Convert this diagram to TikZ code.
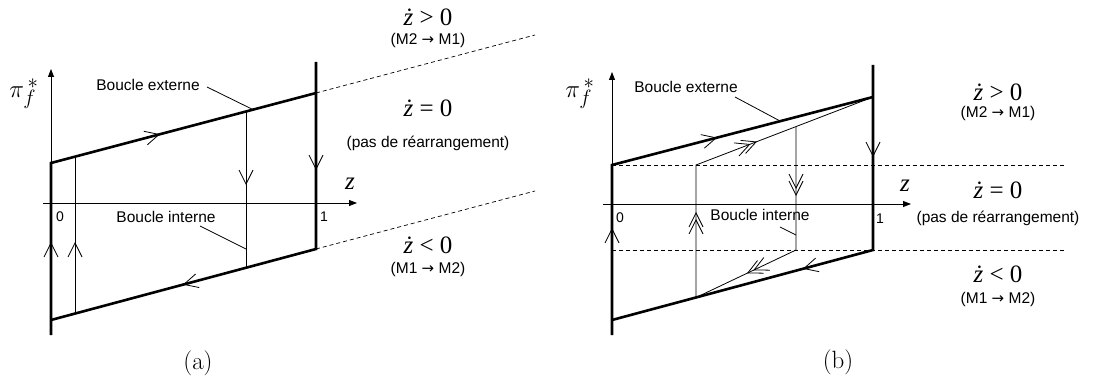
\documentclass[tikz,border=0pt]{standalone}
\usepackage{fontspec}
\newfontfamily\arial{Liberation Sans}
\newfontfamily\tms{Liberation Serif}
\newfontfamily\djv{DejaVu Sans}
\newcommand\rarr{{\djv\fontsize{15}{15}\selectfont →}}
\usetikzlibrary{arrows.meta,decorations.markings}
\tikzset{
  Vb/.tip={Straight Barb[length=14pt,width=14pt,line width=0.8pt]},
  outer/.style={line width=2.6pt},
  innerl/.style={line width=0.8pt},
  axis/.style={line width=0.8pt,-{Triangle[length=8pt,width=6pt]}},
  dash line/.style={line width=0.7pt,dash pattern=on 4pt off 3pt},
  mk/.style={postaction={decorate,decoration={markings,mark=at position #1 with {\arrow{Vb}}}}},
  mkk/.style={postaction={decorate,decoration={markings,mark=at position #1 with {\arrow{Vb}\pgftransformxshift{-7pt}\arrow{Vb}}}}},
  lab/.style={inner sep=0pt,font=\arial\fontsize{15.5}{18}\selectfont},
  sm/.style={inner sep=0pt,font=\arial\fontsize{15.5}{18}\selectfont},
  dig/.style={inner sep=0pt,font=\arial\fontsize{14}{17}\selectfont},
  mth/.style={inner sep=0pt,font=\tms\fontsize{25}{29}\selectfont},
  captxt/.style={inner sep=0pt,font=\fontsize{25}{30}\selectfont},
  pitxt/.style={inner sep=0pt,font=\fontsize{30}{36}\selectfont},
}
\begin{document}
\begin{tikzpicture}[x=1pt,y=-1pt]
\useasboundingbox (0,0) rectangle (1110,385);
% ================= panel (a) =================
\coordinate (aO) at (51,203);
\coordinate (aA) at (51,335);
\coordinate (aB) at (51,163);
\coordinate (aC) at (316,93);
\coordinate (aD) at (316,62);
\coordinate (aE) at (316,249);
\coordinate (aF) at (51,320);
\coordinate (aG) at (535,35);
\coordinate (aH) at (535,191);
\coordinate (aI1) at (75,156.7);
\coordinate (aI2) at (75,313.6);
\coordinate (aJ1) at (246,111.5);
\coordinate (aJ2) at (246,267.8);
\draw[axis] (43,203) -- (357,203);
\draw[axis] (aO) -- (51,69);
\draw[outer,line join=miter,mk=93pt,mk=284.7pt] (aA) -- (aB) -- (aC);
\draw[outer,line join=miter,mk=108pt,mk=324.7pt] (aD) -- (aE) -- (aF);
\draw[dash line] (aC) -- (aG);
\draw[dash line] (aE) -- (aH);
\draw[innerl,mk=71.6pt] (aI2) -- (aI1);
\draw[innerl,mk=73.5pt] (aJ1) -- (aJ2);
\node[pitxt] (api) at (24,94) {$\pi^{\,*}_{f}$};
\node[mth] (az) at (350,184) {\itshape z};
\node[dig] (a0) at (60,217) {0};
\node[dig] (a1) at (324,217) {1};
\node[lab] (abe) at (148,85) {Boucle externe};
\coordinate (abeE) at (253,109.6);
\draw[innerl] (207,87) -- (abeE);
\node[lab] (abi) at (166,217) {Boucle interne};
\coordinate (abiE) at (246,249);
\draw[innerl] (200,226) -- (abiE);
\node[mth] (at1) at (428,17) {\itshape ż\upshape\ > 0};
\node[sm] (at2) at (428,40) {(M2 \rarr\ M1)};
\node[mth] (at3) at (428,108) {\itshape ż\upshape\ = 0};
\node[lab] (at4) at (428,143) {(pas de réarrangement)};
\node[mth] (at5) at (428,245) {\itshape ż\upshape\ < 0};
\node[sm] (at6) at (428,269) {(M1 \rarr\ M2)};
\node[captxt] (acap) at (198,363) {(a)};
% ================= panel (b) =================
\coordinate (bO) at (612,204);
\coordinate (bA) at (612,335);
\coordinate (bB) at (612,165);
\coordinate (bC) at (873,97);
\coordinate (bD) at (873,65);
\coordinate (bE) at (873,250);
\coordinate (bF) at (612,320);
\coordinate (bI1) at (696,297.5);
\coordinate (bI2) at (696,165);
\coordinate (bJ1) at (796,126.6);
\coordinate (bJ2) at (796,250);
\draw[dash line] (bB) -- (1065,165);
\draw[dash line] (612,250) -- (1065,250);
\draw[axis] (603,204) -- (911,204);
\draw[axis] (bO) -- (612,72);
\draw[outer,line join=miter,mk=107pt,mk=278.5pt] (bA) -- (bB) -- (bC);
\draw[outer,line join=miter,mk=92pt,mk=257.5pt] (bD) -- (bE) -- (bF);
\draw[innerl,mkk=85.5pt,mkk=197.8pt] (bI1) -- (bI2) -- (bC);
\draw[innerl,mkk=69.4pt,mkk=177.6pt] (bJ1) -- (bJ2) -- (bI1);
\node[pitxt] (bpi) at (580,94) {$\pi^{\,*}_{f}$};
\node[mth] (bz) at (905,186) {\itshape z};
\node[dig] (b0) at (620,218) {0};
\node[dig] (b1) at (880,219) {1};
\node[lab] (bbe) at (686,87) {Boucle externe};
\coordinate (bbeE) at (780,121);
\draw[innerl] (735,97) -- (bbeE);
\node[lab] (bbi) at (760,215) {Boucle interne};
\coordinate (bbiE) at (796,235);
\draw[innerl] (780,227) -- (bbiE);
\node[mth] (bt1) at (998,92) {\itshape ż\upshape\ > 0};
\node[sm] (bt2) at (998,113) {(M2 \rarr\ M1)};
\node[mth] (bt3) at (998,190) {\itshape ż\upshape\ = 0};
\node[lab] (bt4) at (998,218) {(pas de réarrangement)};
\node[mth] (bt5) at (998,274) {\itshape ż\upshape\ < 0};
\node[sm] (bt6) at (998,299) {(M1 \rarr\ M2)};
\node[captxt] (bcap) at (838,362) {(b)};
\end{tikzpicture}
\end{document}
